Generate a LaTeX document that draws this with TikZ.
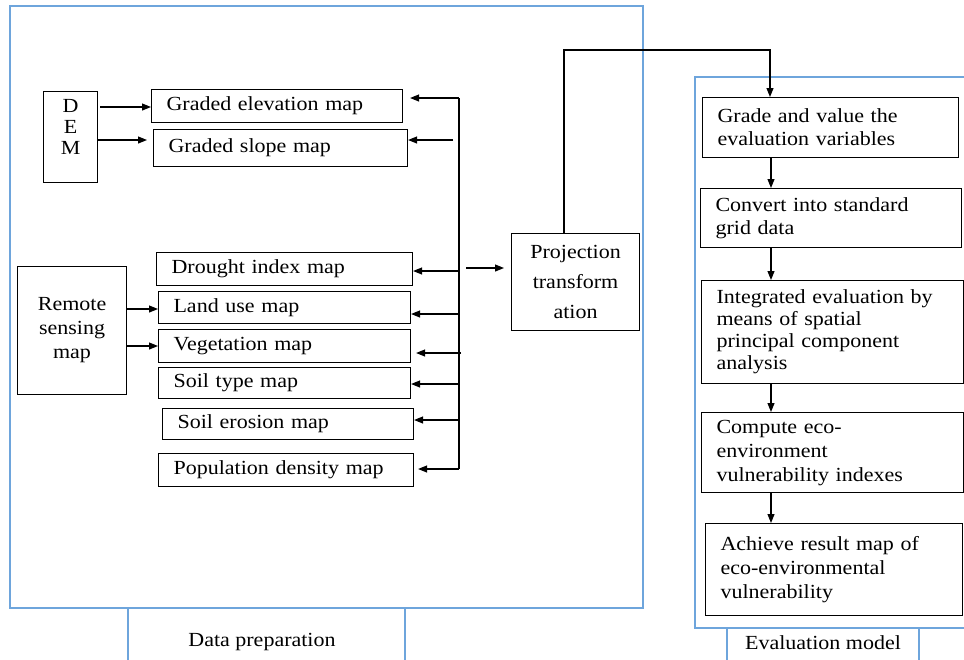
\documentclass[tikz,border=0pt]{standalone}
\usepackage{fontspec}
\newfontfamily\diafont[FakeStretch=1.1]{Liberation Serif}
\usetikzlibrary{arrows.meta}
\definecolor{frameblue}{RGB}{110,165,220}
\begin{document}
\begin{tikzpicture}[x=1pt,y=-1pt,
  lbox/.style={draw, line width=1.1pt, anchor=north west, inner xsep=15pt, inner ysep=0pt,
    align=left, font=\diafont\fontsize{20}{23}\selectfont},
  cbox/.style={draw, line width=1.1pt, anchor=north west, inner sep=0pt, align=center},
  arr/.style={line width=1.1pt, -{Triangle[length=9pt,width=7pt]}},
  conn/.style={line width=1.1pt},
  frame/.style={draw=frameblue, line width=1.3pt},
  lab/.style={font=\diafont\fontsize{20}{23}\selectfont}]
\useasboundingbox (0,0) rectangle (964,659);
\begin{scope}
\clip (0,0) rectangle (964,659);
% frames
\draw[frame] (10,6) rectangle (643,608);
\draw[frame] (128,608) rectangle (405,662);
\draw[frame] (695,77) rectangle (980,628);
\draw[frame] (727,628) rectangle (919,662);
\end{scope}
\node[lab] (dataprep) at (262,642) {Data preparation};
\node[lab] (evalmodel) at (823,643) {Evaluation model};

% left sources
\node[cbox, minimum width=54pt, minimum height=91pt, font=\diafont\fontsize{20}{21}\selectfont] (dem) at (43,91) {D\\E\\M\\\mbox{}};
\node[cbox, minimum width=109pt, minimum height=128pt, font=\diafont\fontsize{20}{24}\selectfont] (remote) at (17,266) {Remote\\sensing\\map};

% map boxes
\node[lbox, text width=221pt, minimum height=33pt] (elev) at (151,89) {Graded elevation map};
\node[lbox, text width=224pt, minimum height=37pt] (slope) at (153,129) {Graded slope map};
\node[lbox, text width=226pt, minimum height=33pt] (drought) at (156,252) {Drought index map};
\node[lbox, text width=222pt, minimum height=32pt] (land) at (158,291) {Land use map};
\node[lbox, text width=222pt, minimum height=33pt] (veg) at (158,329) {Vegetation map};
\node[lbox, text width=222pt, minimum height=31pt] (soilt) at (158,367) {Soil type map};
\node[lbox, text width=221pt, minimum height=31pt] (soile) at (162,408) {Soil erosion map};
\node[lbox, text width=225pt, minimum height=33pt] (pop) at (158,453) {Population density map};

% projection
\node[cbox, minimum width=128pt, minimum height=97pt, font=\diafont\fontsize{20}{30}\selectfont] (proj) at (511,233) {Projection\\transform\\ation};

% right column
\node[lbox, text width=226pt, minimum height=60pt] (grade) at (702,97) {Grade and value the\\evaluation variables};
\node[lbox, text width=231pt, minimum height=59pt] (conv) at (700,188) {Convert into standard\\grid data};
\node[lbox, text width=232pt, minimum height=103pt, font=\diafont\fontsize{20}{22}\selectfont] (integ) at (701,280) {Integrated evaluation by\\means of spatial\\principal component\\analysis};
\node[lbox, text width=232pt, minimum height=80pt, font=\diafont\fontsize{20}{24}\selectfont] (comp) at (701,412) {Compute eco-\\environment\\vulnerability indexes};
\node[lbox, text width=227pt, minimum height=92pt, font=\diafont\fontsize{20}{24}\selectfont] (ach) at (705,523) {Achieve result map of\\eco-environmental\\vulnerability};

% DEM / remote arrows
\coordinate (d1) at (100,107);
\coordinate (d2) at (97,140);
\draw[arr] (d1) -- (elev.west |- d1);
\draw[arr, shorten >=6pt] (d2) -- (slope.west |- d2);
\coordinate (r1) at (126,309);
\coordinate (r2) at (126,346);
\draw[arr] (r1) -- (land.west |- r1);
\draw[arr] (r2) -- (veg.west |- r2);

% bus
\coordinate (bustop) at (459,98);
\coordinate (busbot) at (459,469);
\draw[conn] (bustop) -- (busbot);
\draw[arr, shorten >=7pt] (bustop) -- (elev.east |- bustop);
\coordinate (b2) at (453,140);
\draw[arr] (b2) -- (slope.east |- b2);
\coordinate (b3) at (459,271);
\draw[arr] (b3) -- (drought.east |- b3);
\coordinate (b4) at (459,314);
\draw[arr] (b4) -- (land.east |- b4);
\coordinate (b5) at (461,353);
\draw[arr, shorten >=5pt] (b5) -- (veg.east |- b5);
\coordinate (b6) at (459,384);
\draw[arr] (b6) -- (soilt.east |- b6);
\coordinate (b7) at (459,420);
\draw[arr] (b7) -- (soile.east |- b7);
\draw[arr, shorten >=4pt] (busbot) -- (pop.east |- busbot);

% to projection
\coordinate (pa) at (466,268);
\draw[arr, shorten >=7pt] (pa) -- (proj.west |- pa);

% projection to grade
\coordinate (pt1) at (564,50);
\coordinate (pt2) at (770,50);
\draw[arr] (proj.north -| pt1) -- (pt1) -- (pt2) -- (grade.north -| pt2);

% right column arrows
\coordinate (cx) at (771,0);
\draw[arr] (grade.south -| cx) -- (conv.north -| cx);
\draw[arr] (conv.south -| cx) -- (integ.north -| cx);
\draw[arr] (integ.south -| cx) -- (comp.north -| cx);
\draw[arr] (comp.south -| cx) -- (ach.north -| cx);
\end{tikzpicture}
\end{document}
